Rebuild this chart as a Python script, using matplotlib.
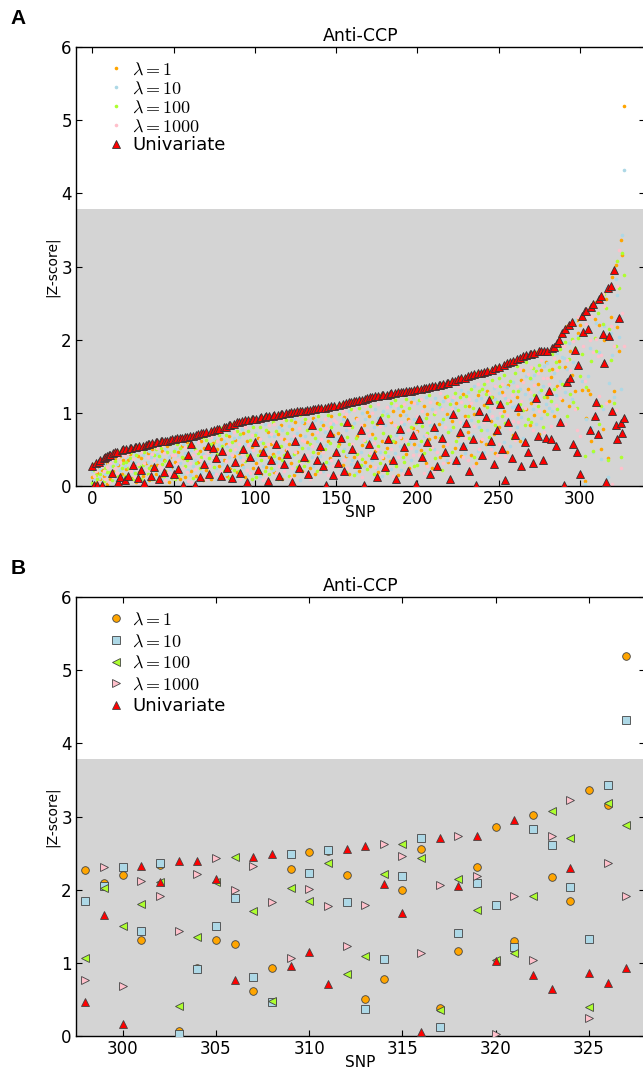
import numpy as np
import matplotlib.pyplot as plt

plt.rcParams['font.family'] = ['DejaVu Sans']
plt.rcParams['mathtext.fontset'] = 'cm'

# |Z-score| of the 30 top SNPs (index 298..327), shown in both panels
snp_top = list(range(298, 328))
top_l1 = [2.27, 2.09, 2.20, 1.31, 2.34, 0.07, 0.93, 1.31, 1.26, 0.61,
          0.93, 2.28, 2.51, 2.53, 2.20, 0.51, 0.78, 2.00, 2.56, 0.38,
          1.16, 2.31, 2.86, 1.30, 3.02, 2.17, 1.85, 3.36, 3.16, 5.20]
top_l10 = [1.85, 2.05, 2.31, 1.44, 2.36, 0.03, 0.91, 1.50, 1.89, 0.81,
           0.47, 2.49, 2.23, 2.54, 1.83, 0.37, 1.05, 2.19, 2.70, 0.12,
           1.41, 2.09, 1.79, 1.21, 2.83, 2.61, 2.04, 1.33, 3.43, 4.32]
top_l100 = [1.06, 2.02, 1.51, 1.81, 2.10, 0.41, 1.35, 2.10, 2.44, 1.71,
            0.48, 2.02, 1.85, 2.37, 0.85, 1.09, 2.21, 2.63, 2.43, 0.35,
            2.15, 1.72, 1.04, 1.13, 1.92, 3.07, 2.70, 0.40, 3.19, 2.89]
top_l1000 = [0.76, 2.31, 0.68, 2.12, 1.91, 1.43, 2.22, 2.43, 1.99, 2.32,
             1.83, 1.06, 2.01, 1.78, 1.23, 1.79, 2.62, 2.46, 1.13, 2.06,
             2.73, 2.18, 0.03, 1.91, 1.04, 2.73, 3.22, 0.25, 2.36, 1.91]
top_uni = [0.46, 1.66, 0.17, 2.33, 2.10, 2.39, 2.39, 2.14, 0.77, 2.44,
           2.49, 0.95, 1.15, 0.71, 2.55, 2.59, 2.08, 1.68, 0.06, 2.71,
           2.05, 2.74, 1.02, 2.95, 0.84, 0.64, 2.29, 0.86, 0.72, 0.93]

# the other SNPs (index 0..297), panel A only
low_uni = [0.28, 0.01, 0.31, 0.02, 0.33, 0.35, 0.01, 0.38, 0.40, 0.41,
           0.42, 0.43, 0.18, 0.45, 0.46, 0.47, 0.05, 0.12, 0.49, 0.50,
           0.08, 0.51, 0.14, 0.52, 0.52, 0.29, 0.53, 0.53, 0.11, 0.54,
           0.22, 0.55, 0.04, 0.56, 0.57, 0.58, 0.13, 0.59, 0.26, 0.60,
           0.60, 0.09, 0.61, 0.61, 0.19, 0.62, 0.62, 0.31, 0.63, 0.64,
           0.16, 0.64, 0.65, 0.23, 0.65, 0.66, 0.02, 0.67, 0.67, 0.42,
           0.68, 0.58, 0.69, 0.02, 0.70, 0.71, 0.12, 0.72, 0.72, 0.30,
           0.74, 0.55, 0.17, 0.75, 0.52, 0.77, 0.38, 0.78, 0.78, 0.13,
           0.48, 0.80, 0.81, 0.25, 0.83, 0.84, 0.11, 0.85, 0.33, 0.87,
           0.88, 0.18, 0.89, 0.50, 0.90, 0.06, 0.90, 0.40, 0.91, 0.92,
           0.60, 0.92, 0.22, 0.93, 0.94, 0.47, 0.94, 0.95, 0.07, 0.96,
           0.35, 0.96, 0.97, 0.58, 0.97, 0.13, 0.98, 0.99, 0.30, 1.00,
           0.44, 1.00, 1.01, 0.05, 1.01, 0.62, 1.02, 0.24, 1.03, 1.03,
           0.40, 1.03, 1.04, 0.16, 1.04, 0.84, 1.05, 1.05, 0.36, 1.06,
           0.54, 1.06, 0.28, 1.07, 0.01, 1.08, 0.72, 1.09, 0.15, 1.10,
           0.46, 0.32, 1.11, 0.66, 1.12, 0.20, 1.14, 0.88, 1.15, 1.15,
           0.50, 1.16, 1.16, 0.30, 1.17, 0.76, 1.18, 0.02, 1.19, 1.20,
           0.58, 1.21, 1.22, 0.42, 1.23, 0.12, 1.23, 0.90, 1.24, 1.25,
           0.26, 1.25, 0.64, 1.26, 1.27, 0.35, 1.27, 0.09, 1.28, 0.78,
           1.29, 1.29, 0.53, 1.30, 0.20, 1.30, 1.30, 0.70, 1.31, 0.03,
           1.32, 0.92, 1.33, 0.40, 1.34, 1.34, 0.60, 1.35, 0.16, 1.36,
           0.80, 1.37, 0.28, 1.38, 1.38, 0.66, 1.39, 0.46, 1.41, 1.41,
           0.10, 1.43, 0.98, 1.44, 0.36, 1.46, 0.74, 1.47, 0.54, 1.48,
           0.86, 1.50, 0.20, 1.52, 0.64, 1.53, 0.01, 1.54, 1.02, 1.55,
           0.42, 1.56, 0.94, 1.57, 1.18, 0.62, 1.59, 0.30, 1.61, 0.76,
           1.63, 1.12, 0.50, 1.66, 0.08, 1.68, 0.88, 1.70, 0.38, 1.71,
           0.70, 1.73, 1.08, 1.75, 0.28, 1.77, 0.60, 1.79, 0.46, 1.80,
           1.81, 0.32, 1.82, 1.20, 0.68, 1.84, 1.84, 0.36, 1.84, 0.66,
           1.85, 1.30, 0.64, 1.88, 1.90, 0.54, 1.95, 2.00, 0.88, 2.09,
           0.02, 2.15, 1.42, 2.20, 1.47, 2.24, 0.58, 1.86]
low_l1 = [0.12, 0.30, 0.05, 0.18, 0.26, 0.09, 0.22, 0.14, 0.31, 0.03,
          0.33, 0.10, 0.44, 0.21, 0.38, 0.07, 0.29, 0.41, 0.16, 0.35,
          0.50, 0.23, 0.36, 0.44, 0.11, 0.52, 0.30, 0.06, 0.41, 0.19,
          0.38, 0.14, 0.56, 0.31, 0.45, 0.08, 0.27, 0.50, 0.59, 0.17,
          0.29, 0.60, 0.12, 0.48, 0.35, 0.21, 0.55, 0.06, 0.40, 0.26,
          0.64, 0.33, 0.20, 0.47, 0.09, 0.54, 0.38, 0.12, 0.60, 0.68,
          0.40, 0.21, 0.55, 0.69, 0.14, 0.33, 0.48, 0.61, 0.08, 0.52,
          0.22, 0.74, 0.46, 0.10, 0.59, 0.37, 0.77, 0.50, 0.27, 0.64,
          0.79, 0.36, 0.58, 0.14, 0.69, 0.25, 0.85, 0.41, 0.63, 0.19,
          0.45, 0.88, 0.29, 0.72, 0.12, 0.61, 0.38, 0.91, 0.53, 0.24,
          0.92, 0.31, 0.66, 0.48, 0.17, 0.94, 0.53, 0.26, 0.74, 0.40,
          0.58, 0.44, 0.19, 0.97, 0.71, 0.38, 0.83, 0.10, 0.64, 0.49,
          1.00, 0.57, 0.32, 0.78, 0.15, 0.88, 0.46, 1.03, 0.70, 0.21,
          0.86, 0.35, 0.60, 1.04, 0.24, 0.71, 0.93, 0.17, 1.05, 0.45,
          1.06, 0.49, 0.83, 0.26, 1.07, 0.62, 0.38, 0.95, 0.70, 0.13,
          1.10, 0.73, 0.58, 1.12, 0.29, 0.94, 0.41, 1.14, 0.16, 0.82,
          1.16, 0.40, 0.93, 0.68, 0.21, 1.17, 0.56, 0.84, 0.33, 1.01,
          0.96, 0.27, 0.71, 1.22, 0.48, 0.85, 0.19, 1.24, 0.62, 0.38,
          1.25, 0.52, 1.26, 0.34, 0.88, 1.02, 0.60, 1.28, 0.15, 0.97,
          0.66, 1.03, 1.29, 0.44, 0.91, 0.25, 1.15, 0.79, 0.58, 1.32,
          0.75, 1.32, 0.49, 1.33, 1.10, 0.31, 0.98, 0.64, 1.35, 0.24,
          1.36, 0.67, 1.13, 0.85, 0.40, 1.39, 0.54, 1.21, 0.99, 0.33,
          1.42, 0.89, 1.43, 0.52, 1.14, 0.68, 1.46, 0.41, 1.26, 0.95,
          1.49, 0.74, 1.10, 0.43, 1.52, 0.98, 0.32, 1.24, 1.55, 0.61,
          1.56, 1.11, 0.58, 1.30, 1.58, 0.89, 1.22, 0.71, 0.45, 1.62,
          0.81, 1.64, 1.29, 1.02, 1.67, 0.46, 1.38, 1.16, 1.71, 0.70,
          1.72, 1.21, 0.99, 0.62, 1.45, 1.58, 1.78, 1.05, 1.32, 0.84,
          1.13, 1.82, 0.97, 1.83, 1.40, 0.71, 1.58, 1.84, 1.02, 1.70,
          1.22, 1.85, 1.49, 1.60, 0.95, 1.92, 1.36, 1.71, 2.05, 1.18,
          2.12, 1.63, 2.18, 1.09, 1.84, 1.52, 2.25, 1.30]
low_l10 = [0.20, 0.08, 0.27, 0.32, 0.11, 0.24, 0.06, 0.30, 0.16, 0.35,
           0.15, 0.36, 0.27, 0.40, 0.09, 0.30, 0.48, 0.22, 0.43, 0.12,
           0.27, 0.40, 0.51, 0.09, 0.35, 0.21, 0.46, 0.32, 0.15, 0.48,
           0.55, 0.42, 0.19, 0.06, 0.33, 0.48, 0.40, 0.24, 0.12, 0.36,
           0.44, 0.18, 0.37, 0.09, 0.62, 0.50, 0.14, 0.39, 0.23, 0.57,
           0.26, 0.51, 0.43, 0.65, 0.31, 0.17, 0.58, 0.45, 0.05, 0.22,
           0.15, 0.49, 0.27, 0.36, 0.62, 0.07, 0.71, 0.19, 0.44, 0.28,
           0.51, 0.30, 0.75, 0.42, 0.18, 0.66, 0.24, 0.09, 0.56, 0.35,
           0.30, 0.62, 0.17, 0.54, 0.40, 0.73, 0.28, 0.66, 0.12, 0.47,
           0.67, 0.39, 0.78, 0.26, 0.57, 0.90, 0.15, 0.47, 0.83, 0.36,
           0.37, 0.73, 0.93, 0.14, 0.62, 0.28, 0.85, 0.50, 0.33, 0.69,
           0.96, 0.22, 0.68, 0.33, 0.47, 0.80, 0.14, 0.76, 0.99, 0.27,
           0.29, 0.82, 0.64, 0.41, 0.93, 0.19, 0.72, 0.55, 0.08, 0.87,
           1.03, 0.69, 0.14, 0.52, 0.81, 0.39, 0.28, 0.90, 0.61, 0.75,
           0.41, 0.88, 0.20, 0.74, 0.56, 0.31, 1.08, 0.12, 0.85, 0.66,
           0.64, 1.11, 0.37, 0.22, 0.91, 0.50, 0.76, 0.43, 1.02, 0.30,
           0.35, 0.86, 0.18, 1.17, 0.74, 0.46, 1.00, 0.27, 0.92, 0.59,
           1.21, 0.64, 0.35, 0.80, 1.05, 0.25, 0.93, 0.47, 0.13, 1.02,
           0.83, 0.99, 0.41, 1.10, 0.23, 1.27, 0.45, 0.70, 1.06, 0.55,
           0.22, 0.71, 0.85, 0.97, 1.30, 0.60, 0.36, 1.20, 0.92, 0.48,
           1.14, 0.56, 0.90, 0.37, 0.68, 1.22, 1.34, 0.19, 0.83, 1.05,
           0.51, 1.20, 0.73, 0.26, 1.08, 0.87, 1.16, 0.60, 0.35, 0.94,
           0.77, 1.18, 0.34, 1.06, 1.45, 0.29, 0.58, 1.31, 0.86, 0.45,
           0.55, 1.28, 1.51, 0.90, 0.70, 1.37, 1.17, 0.48, 0.81, 1.20,
           0.99, 0.47, 1.57, 0.76, 1.03, 1.58, 0.55, 1.34, 1.19, 0.93,
           1.27, 0.73, 1.65, 0.60, 1.20, 1.35, 0.92, 0.54, 1.08, 1.42,
           1.10, 0.80, 1.74, 1.33, 0.94, 0.66, 1.26, 1.50, 1.80, 1.19,
           1.46, 1.05, 1.52, 0.85, 1.83, 1.29, 0.93, 1.36, 1.64, 1.12,
           1.68, 1.07, 1.86, 1.02, 1.54, 1.25, 1.82, 0.90, 1.44, 1.76,
           1.75, 1.28, 1.60, 1.95, 2.22, 1.19, 1.70, 2.27]
low_l100 = [0.04, 0.22, 0.15, 0.10, 0.30, 0.17, 0.36, 0.07, 0.25, 0.19,
            0.39, 0.19, 0.08, 0.28, 0.34, 0.42, 0.14, 0.48, 0.25, 0.31,
            0.13, 0.33, 0.24, 0.38, 0.47, 0.10, 0.18, 0.42, 0.54, 0.28,
            0.10, 0.29, 0.47, 0.52, 0.16, 0.25, 0.58, 0.09, 0.43, 0.51,
            0.07, 0.41, 0.52, 0.30, 0.13, 0.34, 0.46, 0.63, 0.58, 0.11,
            0.48, 0.10, 0.57, 0.14, 0.52, 0.40, 0.66, 0.28, 0.36, 0.55,
            0.57, 0.68, 0.11, 0.50, 0.31, 0.45, 0.25, 0.39, 0.67, 0.73,
            0.63, 0.14, 0.38, 0.58, 0.76, 0.26, 0.61, 0.44, 0.70, 0.79,
            0.55, 0.21, 0.70, 0.82, 0.11, 0.49, 0.60, 0.22, 0.86, 0.75,
            0.20, 0.71, 0.52, 0.89, 0.34, 0.43, 0.75, 0.63, 0.09, 0.80,
            0.70, 0.12, 0.42, 0.81, 0.36, 0.59, 0.21, 0.77, 0.95, 0.16,
            0.24, 0.87, 0.41, 0.75, 0.09, 0.98, 0.55, 0.36, 0.43, 0.90,
            0.73, 0.13, 0.90, 1.01, 0.44, 1.02, 0.26, 0.34, 0.97, 0.52,
            0.27, 0.91, 0.77, 0.34, 0.58, 1.04, 0.47, 0.65, 0.20, 0.96,
            0.78, 0.23, 1.07, 0.51, 0.33, 0.97, 0.59, 0.80, 1.09, 0.44,
            0.28, 0.55, 0.99, 0.85, 0.48, 1.13, 0.19, 0.67, 0.57, 1.05,
            0.81, 0.15, 0.66, 0.44, 1.06, 0.29, 0.37, 1.18, 0.61, 0.23,
            0.43, 1.09, 0.88, 0.17, 0.66, 1.23, 0.54, 0.31, 0.97, 0.72,
            0.47, 0.18, 0.95, 0.69, 1.13, 0.62, 1.18, 0.28, 0.81, 1.29,
            1.09, 0.40, 0.33, 1.19, 0.57, 1.07, 0.81, 1.31, 0.27, 0.86,
            0.29, 1.17, 0.61, 0.82, 0.45, 0.93, 0.72, 1.25, 0.50, 0.78,
            0.98, 0.38, 1.37, 1.12, 0.66, 0.22, 0.92, 1.40, 1.23, 0.74,
            1.12, 0.47, 0.80, 1.27, 0.62, 1.04, 1.21, 0.73, 1.48, 1.10,
            1.23, 0.96, 0.65, 1.33, 1.06, 0.40, 1.54, 0.89, 1.30, 0.77,
            1.32, 1.40, 1.26, 1.08, 0.67, 1.21, 1.45, 1.60, 0.84, 1.15,
            1.48, 1.36, 0.95, 1.52, 0.86, 1.13, 1.69, 1.44, 0.66, 1.30,
            1.55, 1.64, 1.30, 1.12, 1.76, 1.04, 0.83, 1.69, 0.92, 1.48,
            0.87, 1.61, 1.25, 1.57, 1.09, 1.66, 1.31, 0.80, 1.21, 1.85,
            0.99, 1.58, 1.16, 1.81, 1.33, 1.70, 1.05, 1.63, 1.87, 1.40,
            1.38, 1.97, 0.96, 1.74, 1.26, 2.01, 1.15, 1.88]
low_l1000 = [0.24, 0.13, 0.21, 0.27, 0.06, 0.31, 0.28, 0.20, 0.09, 0.26,
             0.06, 0.31, 0.37, 0.12, 0.25, 0.18, 0.40, 0.33, 0.05, 0.44,
             0.41, 0.07, 0.45, 0.26, 0.20, 0.37, 0.12, 0.49, 0.30, 0.05,
             0.46, 0.50, 0.32, 0.22, 0.39, 0.13, 0.20, 0.44, 0.35, 0.04,
             0.52, 0.27, 0.24, 0.56, 0.45, 0.08, 0.32, 0.18, 0.15, 0.43,
             0.11, 0.42, 0.30, 0.36, 0.20, 0.62, 0.24, 0.53, 0.19, 0.07,
             0.32, 0.06, 0.43, 0.23, 0.48, 0.60, 0.35, 0.13, 0.29, 0.41,
             0.09, 0.47, 0.28, 0.67, 0.40, 0.53, 0.16, 0.62, 0.34, 0.20,
             0.13, 0.48, 0.34, 0.45, 0.57, 0.08, 0.43, 0.74, 0.51, 0.32,
             0.58, 0.10, 0.44, 0.35, 0.81, 0.22, 0.56, 0.18, 0.70, 0.49,
             0.19, 0.55, 0.27, 0.64, 0.88, 0.08, 0.40, 0.11, 0.58, 0.83,
             0.71, 0.60, 0.85, 0.18, 0.52, 0.27, 0.66, 0.92, 0.20, 0.62,
             0.51, 0.38, 0.11, 0.25, 0.68, 0.47, 0.95, 0.79, 0.30, 0.63,
             0.62, 0.18, 0.43, 0.89, 0.10, 0.55, 0.82, 0.37, 0.74, 0.31,
             0.19, 0.64, 0.47, 0.92, 0.79, 0.15, 0.86, 0.36, 0.27, 0.90,
             0.87, 0.14, 0.26, 0.62, 1.03, 0.35, 0.98, 0.24, 0.81, 0.53,
             0.58, 1.04, 0.48, 0.91, 0.39, 0.83, 0.12, 0.63, 1.10, 0.76,
             0.70, 0.45, 1.00, 0.59, 0.26, 0.51, 1.12, 0.82, 0.40, 0.20,
             0.61, 1.08, 0.26, 0.90, 0.50, 0.14, 0.84, 1.11, 0.39, 0.67,
             0.87, 0.16, 1.12, 0.63, 0.76, 0.89, 0.52, 0.43, 1.14, 0.74,
             0.96, 0.42, 1.19, 1.02, 0.18, 0.70, 0.27, 0.88, 1.15, 0.53,
             0.21, 1.01, 0.46, 0.63, 1.27, 1.05, 0.31, 0.80, 0.57, 1.18,
             0.36, 1.05, 1.22, 0.30, 0.93, 1.36, 0.87, 1.15, 0.39, 0.66,
             0.92, 0.35, 1.19, 1.14, 0.27, 0.82, 0.63, 1.40, 0.51, 1.03,
             0.64, 0.88, 0.39, 1.44, 1.27, 0.50, 0.96, 1.06, 1.36, 0.42,
             0.57, 1.00, 1.40, 1.24, 0.41, 0.97, 1.18, 0.78, 1.25, 0.89,
             0.63, 1.37, 0.88, 1.60, 1.16, 1.42, 1.07, 0.59, 1.53, 1.28,
             1.62, 0.76, 1.38, 1.14, 1.55, 1.03, 1.72, 1.48, 0.74, 1.27,
             1.47, 1.39, 0.82, 1.28, 1.75, 1.11, 1.59, 1.34, 1.20, 1.93,
             1.91, 0.85, 1.72, 1.44, 1.58, 1.81, 1.98, 1.05]

labels = ['$\\lambda=1$', '$\\lambda=10$', '$\\lambda=100$', '$\\lambda=1000$', 'Univariate']
colors = ['orange', 'lightblue', 'greenyellow', 'pink', 'red']
markers_b = ['o', 's', '<', '>', '^']
threshold = 3.78  # significance line, grey band below

snp_all = np.arange(len(low_uni) + len(snp_top))
series_all = [low_l1 + top_l1, low_l10 + top_l10, low_l100 + top_l100,
              low_l1000 + top_l1000, low_uni + top_uni]
series_top = [top_l1, top_l10, top_l100, top_l1000, top_uni]

fig = plt.figure(figsize=(6.43, 10.72), dpi=100)
W, H = 643.0, 1072.0
axA = fig.add_axes([76 / W, 1 - 486 / H, 569 / W, 439 / H])
axB = fig.add_axes([76 / W, 1 - 1036 / H, 569 / W, 439 / H])


def style(ax):
    ax.axhspan(0, threshold, color='#d4d4d4', zorder=0, lw=0)
    ax.set_ylim(0, 6)
    ax.set_yticks(range(7))
    ax.tick_params(direction='in', top=True, right=True, labelsize=12,
                   length=4, width=0.8, pad=3)
    ax.set_title('Anti-CCP', fontsize=12.5, pad=4)
    ax.set_xlabel('SNP', fontsize=11, labelpad=-2)
    ax.set_ylabel('|Z-score|', fontsize=10, labelpad=1.5)
    for s in ax.spines.values():
        s.set_linewidth(1.0)


# panel A: all SNPs
for i in range(4):
    axA.plot(snp_all, series_all[i], 'o', ms=2.6, mew=0, color=colors[i],
             label=labels[i], zorder=2)
axA.plot(snp_all, series_all[4], '^', ms=5.5, mfc='red', mec='#333333',
         mew=0.6, label=labels[4], zorder=3)
axA.set_xlim(-10, 340)
axA.set_xticks(range(0, 301, 50))
style(axA)
axA.legend(loc='upper left', bbox_to_anchor=(0.045, 0.985), frameon=False,
           numpoints=1, fontsize=13, handlelength=0.8, handletextpad=0.5,
           labelspacing=0.05, borderaxespad=0)

# panel B: top 30 SNPs
for i in range(5):
    axB.plot(snp_top, series_top[i], markers_b[i], ms=5.5, mfc=colors[i],
             mec='#444444', mew=0.6, label=labels[i], zorder=2 + i)
axB.set_xlim(297.5, 328)
axB.set_xticks(range(300, 326, 5))
style(axB)
axB.legend(loc='upper left', bbox_to_anchor=(0.045, 0.985), frameon=False,
           numpoints=1, fontsize=13, handlelength=0.8, handletextpad=0.5,
           labelspacing=0.2, borderaxespad=0)

fig.text(18 / W, 1 - 18 / H, 'A', fontsize=15, fontweight='bold',
         family='Liberation Sans', va='center', ha='center')
fig.text(18 / W, 1 - 568 / H, 'B', fontsize=15, fontweight='bold',
         family='Liberation Sans', va='center', ha='center')

fig.savefig('out.png', dpi=100)
